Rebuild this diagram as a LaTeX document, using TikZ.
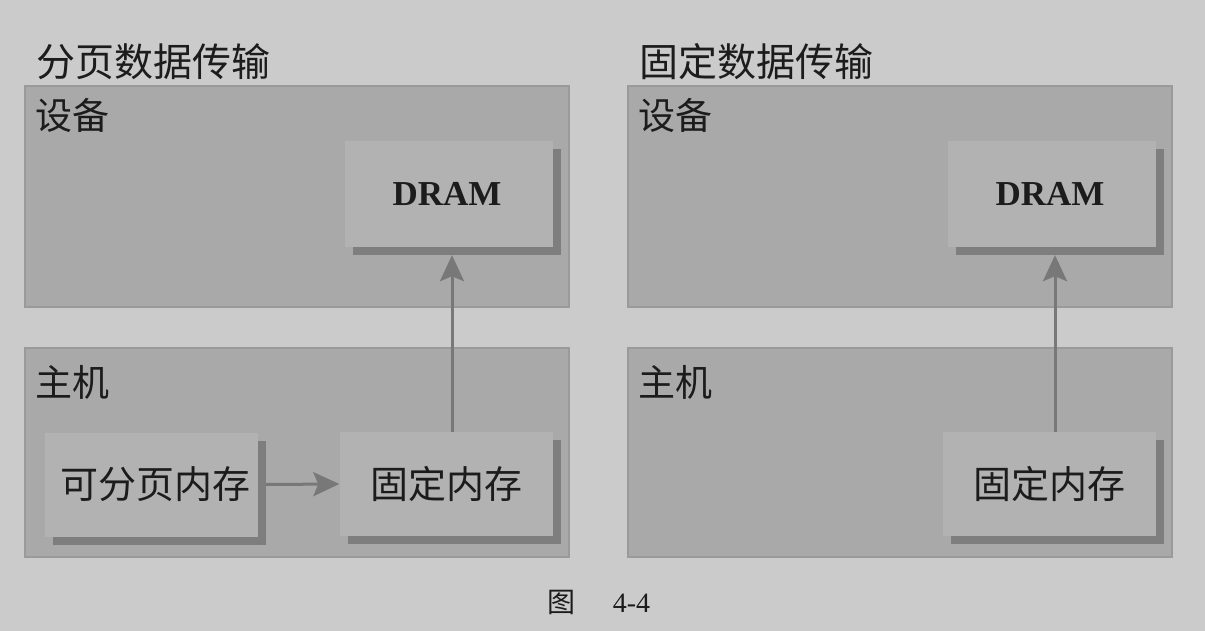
\documentclass[tikz,border=0pt]{standalone}
\usepackage{fontspec}
\setmainfont{Liberation Serif}
\newfontfamily\cjk{Noto Sans CJK SC}
\usetikzlibrary{shadows,arrows.meta}

\definecolor{pagebg}{HTML}{CBCBCB}
\definecolor{panelfill}{HTML}{A9A9A9}
\definecolor{panelline}{HTML}{9A9A9A}
\definecolor{boxfill}{HTML}{B2B2B2}
\definecolor{shadowgray}{HTML}{7E7E7E}
\definecolor{arrowgray}{HTML}{787878}
\definecolor{ink}{HTML}{1C1C1C}

\begin{document}
\begin{tikzpicture}[x=1pt,y=-1pt,
  panel/.style={draw=panelline, line width=1.5pt, fill=panelfill,
    minimum width=544pt, inner sep=0pt},
  memory/.style={fill=boxfill, minimum width=213pt, minimum height=104pt,
    inner sep=0pt, text=ink, font=\cjk\fontsize{38}{40}\selectfont,
    drop shadow={shadow xshift=8pt, shadow yshift=-8pt, fill=shadowgray, opacity=1}},
  dramstyle/.style={memory, minimum width=208pt, minimum height=106pt,
    font=\bfseries\fontsize{35}{38}\selectfont},
  title/.style={anchor=west, inner sep=0pt, text=ink, font=\cjk\fontsize{39}{42}\selectfont},
  region/.style={anchor=west, inner sep=0pt, text=ink, font=\cjk\fontsize{37}{40}\selectfont},
  flow/.style={draw=arrowgray, line width=3pt,
    -{Stealth[length=26pt, width=24pt, inset=5pt, fill=arrowgray]}}
]
  % page background and size
  \fill[pagebg] (0,0) rectangle (1205,631);
  \useasboundingbox (0,0) rectangle (1205,631);

  % ---------- paged transfer ----------
  \node[title] (titleL) at (36,62) {分页数据传输};
  \node[panel, minimum height=221pt] (devL) at (297,196.5) {};
  \node[panel, minimum height=209pt] (hostL) at (297,452.5) {};
  \node[region] (devLabelL) at (35,115) {设备};
  \node[region] (hostLabelL) at (35,382) {主机};

  \node[dramstyle] (dramL) at (449,194) {\hspace{-4pt}DRAM};
  \node[memory] (pageL) at (151.5,484.5) {\hspace{8pt}可分页内存};
  \node[memory] (fixL) at (446,484) {固定内存};

  \draw[flow] ([xshift=8pt]pageL.east) -- (fixL.west);
  \draw[flow] ([xshift=6pt]fixL.north) -- ([xshift=3pt,yshift=-8pt]dramL.south);

  % ---------- pinned transfer ----------
  \node[title] (titleR) at (639,62) {固定数据传输};
  \node[panel, minimum height=221pt] (devR) at (900,196.5) {};
  \node[panel, minimum height=209pt] (hostR) at (900,452.5) {};
  \node[region] (devLabelR) at (638,115) {设备};
  \node[region] (hostLabelR) at (638,382) {主机};

  \node[dramstyle] (dramR) at (1052,194) {\hspace{-4pt}DRAM};
  \node[memory] (fixR) at (1049,484) {固定内存};

  \draw[flow] ([xshift=6pt]fixR.north) -- ([xshift=3pt,yshift=-8pt]dramR.south);

  % ---------- caption ----------
  \node[inner sep=0pt, text=ink] (caption) at (599,602)
    {{\cjk\fontsize{28}{30}\selectfont 图}\hspace{37pt}{\fontsize{28}{30}\selectfont 4-4}};
\end{tikzpicture}
\end{document}
